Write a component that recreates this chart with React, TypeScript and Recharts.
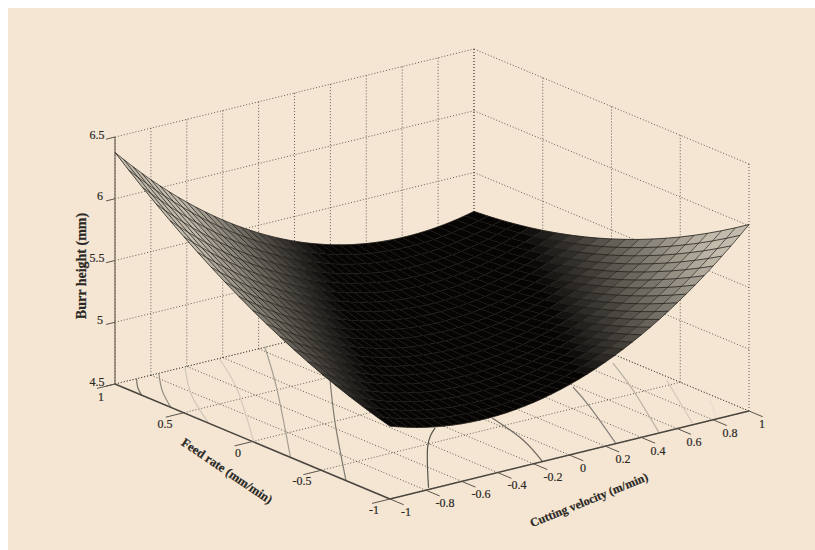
import React from "react";
import { ScatterChart, Scatter, XAxis, YAxis } from "recharts";

const velocityLevels = [-1, -0.95, -0.9, -0.85, -0.8, -0.75, -0.7, -0.65, -0.6, -0.55, -0.5, -0.45, -0.4, -0.35, -0.3, -0.25, -0.2, -0.15, -0.1, -0.05, 0, 0.05, 0.1, 0.15, 0.2, 0.25, 0.3, 0.35, 0.4, 0.45, 0.5, 0.55, 0.6, 0.65, 0.7, 0.75, 0.8, 0.85, 0.9, 0.95, 1];
const feedLevels = [-1, -0.9, -0.8, -0.7, -0.6, -0.5, -0.4, -0.3, -0.2, -0.1, 0, 0.1, 0.2, 0.3, 0.4, 0.5, 0.6, 0.7, 0.8, 0.9, 1];
// burr height: one row per velocity level, one column per feed level
const burrHeight = [
  [5.09,5.1219,5.1573,5.196,5.2382,5.2838,5.3327,5.3851,5.4408,5.5,5.5625,5.6285,5.6978,5.7706,5.8467,5.9263,6.0092,6.0956,6.1853,6.2785,6.375],
  [5.0662,5.0955,5.1282,5.1643,5.2038,5.2468,5.2931,5.3428,5.3959,5.4524,5.5123,5.5756,5.6423,5.7124,5.7859,5.8628,5.9432,6.0269,6.114,6.2045,6.2984],
  [5.0448,5.0715,5.1016,5.135,5.1719,5.2122,5.2559,5.303,5.3534,5.4073,5.4646,5.5253,5.5894,5.6568,5.7277,5.802,5.8797,5.9608,6.0452,6.1331,6.2244],
  [5.0258,5.0498,5.0773,5.1081,5.1424,5.18,5.221,5.2655,5.3133,5.3646,5.4192,5.4772,5.5387,5.6035,5.6718,5.7434,5.8184,5.8969,5.9787,6.064,6.1526],
  [5.0092,5.0306,5.0554,5.0836,5.1152,5.1502,5.1886,5.2304,5.2756,5.3242,5.3762,5.4316,5.4904,5.5526,5.6182,5.6872,5.7596,5.8354,5.9146,5.9972,6.0832],
  [4.995,5.0138,5.0359,5.0615,5.0904,5.1228,5.1586,5.1977,5.2403,5.2862,5.3356,5.3884,5.4445,5.5041,5.567,5.6334,5.7032,5.7763,5.8529,5.9328,6.0162],
  [4.9832,4.9993,5.0189,5.0418,5.0681,5.0978,5.131,5.1675,5.2074,5.2508,5.2975,5.3476,5.4012,5.4581,5.5184,5.5822,5.6493,5.7198,5.7937,5.8711,5.9518],
  [4.9738,4.9873,5.0042,5.0245,5.0482,5.0752,5.1057,5.1396,5.1769,5.2176,5.2617,5.3092,5.3601,5.4144,5.4721,5.5332,5.5976,5.6655,5.7368,5.8115,5.8896],
  [4.9668,4.9776,4.9919,5.0095,5.0306,5.055,5.0829,5.1141,5.1488,5.1868,5.2283,5.2732,5.3214,5.3731,5.4281,5.4866,5.5484,5.6137,5.6823,5.7544,5.8298],
  [4.9622,4.9704,4.982,4.997,5.0154,5.0372,5.0625,5.0911,5.1231,5.1585,5.1973,5.2395,5.2851,5.3341,5.3865,5.4424,5.5016,5.5642,5.6302,5.6996,5.7724],
  [4.96,4.9656,4.9746,4.9869,5.0027,5.0219,5.0445,5.0705,5.0998,5.1326,5.1688,5.2084,5.2514,5.2977,5.3475,5.4007,5.4573,5.5173,5.5806,5.6474,5.7176],
  [4.9602,4.9631,4.9695,4.9792,4.9924,5.0089,5.0288,5.0522,5.0789,5.1091,5.1426,5.1795,5.2199,5.2636,5.3108,5.3613,5.4152,5.4726,5.5333,5.5975,5.665],
  [4.9628,4.9631,4.9668,4.9739,4.9844,4.9983,5.0156,5.0363,5.0604,5.0879,5.1188,5.1531,5.1908,5.2319,5.2764,5.3243,5.3756,5.4303,5.4884,5.5499,5.6148],
  [4.9678,4.9655,4.9665,4.971,4.9788,4.9901,5.0048,5.0228,5.0443,5.0691,5.0974,5.1291,5.1641,5.2026,5.2444,5.2897,5.3384,5.3904,5.4459,5.5047,5.567],
  [4.9752,4.9702,4.9687,4.9705,4.9757,4.9843,4.9964,5.0118,5.0306,5.0529,5.0785,5.1075,5.14,5.1758,5.215,5.2577,5.3037,5.3531,5.4059,5.4622,5.5218],
  [4.985,4.9774,4.9732,4.9724,4.975,4.9809,4.9903,5.0031,5.0193,5.0389,5.0619,5.0883,5.1181,5.1513,5.1879,5.2279,5.2712,5.318,5.3682,5.4218,5.4788],
  [4.9972,4.9869,4.9801,4.9766,4.9766,4.9799,4.9867,4.9968,5.0104,5.0273,5.0477,5.0715,5.0986,5.1292,5.1631,5.2005,5.2412,5.2854,5.3329,5.3839,5.4382],
  [5.0118,4.9989,4.9894,4.9833,4.9806,4.9813,4.9855,4.993,5.0039,5.0182,5.0359,5.057,5.0815,5.1094,5.1407,5.1755,5.2136,5.2551,5.3,5.3483,5.4],
  [5.0288,5.0133,5.0012,4.9924,4.9871,4.9852,4.9867,4.9916,4.9998,5.0115,5.0266,5.0451,5.067,5.0922,5.1209,5.153,5.1885,5.2274,5.2696,5.3153,5.3644],
  [5.0482,5.03,5.0153,5.0039,4.996,4.9914,4.9902,4.9924,4.9981,5.0072,5.0196,5.0354,5.0547,5.0773,5.1034,5.1328,5.1656,5.2019,5.2415,5.2846,5.331],
  [5.07,5.0492,5.0318,5.0178,5.0072,5,4.9962,4.9958,4.9988,5.0052,5.015,5.0282,5.0448,5.0648,5.0882,5.115,5.1452,5.1788,5.2158,5.2562,5.3],
  [5.0942,5.0708,5.0507,5.0341,5.0208,5.011,5.0046,5.0015,5.0019,5.0056,5.0128,5.0234,5.0373,5.0547,5.0754,5.0996,5.1272,5.1581,5.1925,5.2302,5.2714],
  [5.1207,5.0946,5.072,5.0527,5.0368,5.0243,5.0153,5.0096,5.0073,5.0085,5.013,5.0209,5.0323,5.047,5.0651,5.0867,5.1116,5.1399,5.1716,5.2068,5.2453],
  [5.1498,5.1211,5.0958,5.0739,5.0554,5.0402,5.0285,5.0202,5.0153,5.0138,5.0157,5.021,5.0297,5.0418,5.0573,5.0762,5.0984,5.1241,5.1532,5.1857,5.2216],
  [5.1812,5.1498,5.1219,5.0973,5.0762,5.0584,5.0441,5.0331,5.0256,5.0214,5.0207,5.0234,5.0294,5.0389,5.0517,5.068,5.0876,5.1107,5.1371,5.167,5.2002],
  [5.215,5.181,5.1504,5.1232,5.0994,5.0791,5.0621,5.0485,5.0383,5.0315,5.0281,5.0281,5.0315,5.0383,5.0485,5.0621,5.0792,5.0996,5.1234,5.1506,5.1812],
  [5.2512,5.2146,5.1813,5.1515,5.1251,5.1021,5.0824,5.0662,5.0534,5.0439,5.0379,5.0353,5.036,5.0402,5.0478,5.0587,5.0731,5.0909,5.1121,5.1366,5.1646],
  [5.2898,5.2505,5.2147,5.1822,5.1532,5.1275,5.1052,5.0864,5.0709,5.0589,5.0502,5.0449,5.0431,5.0446,5.0496,5.0579,5.0696,5.0848,5.1033,5.1253,5.1506],
  [5.3308,5.2889,5.2504,5.2153,5.1836,5.1553,5.1304,5.1089,5.0908,5.0761,5.0648,5.0569,5.0524,5.0513,5.0536,5.0593,5.0684,5.0809,5.0968,5.1161,5.1388],
  [5.3742,5.3297,5.2885,5.2508,5.2165,5.1855,5.158,5.1338,5.1131,5.0957,5.0818,5.0713,5.0641,5.0604,5.06,5.0631,5.0696,5.0794,5.0927,5.1093,5.1294],
  [5.42,5.3728,5.329,5.2887,5.2517,5.2181,5.1879,5.1611,5.1378,5.1178,5.1012,5.088,5.0782,5.0719,5.0689,5.0693,5.0731,5.0803,5.091,5.105,5.1224],
  [5.4682,5.4184,5.372,5.329,5.2894,5.2532,5.2203,5.1909,5.1649,5.1423,5.1231,5.1073,5.0949,5.0859,5.0803,5.078,5.0792,5.0838,5.0918,5.1032,5.118],
  [5.5188,5.4664,5.4173,5.3717,5.3294,5.2906,5.2551,5.2231,5.1944,5.1692,5.1473,5.1288,5.1138,5.1021,5.0939,5.089,5.0876,5.0895,5.0949,5.1036,5.1158],
  [5.5718,5.5167,5.465,5.4167,5.3718,5.3304,5.2923,5.2576,5.2263,5.1984,5.1739,5.1528,5.1351,5.1208,5.1099,5.1024,5.0984,5.0977,5.1004,5.1065,5.116],
  [5.6272,5.5695,5.5151,5.4642,5.4167,5.3726,5.3318,5.2945,5.2606,5.23,5.2029,5.1792,5.1588,5.1419,5.1284,5.1182,5.1115,5.1082,5.1083,5.1117,5.1186],
  [5.685,5.6246,5.5677,5.5141,5.464,5.4172,5.3738,5.3339,5.2973,5.2642,5.2344,5.208,5.1851,5.1655,5.1494,5.1366,5.1272,5.1213,5.1187,5.1196,5.1238],
  [5.7452,5.6822,5.6226,5.5664,5.5136,5.4642,5.4182,5.3756,5.3364,5.3006,5.2682,5.2392,5.2136,5.1914,5.1726,5.1572,5.1452,5.1366,5.1314,5.1296,5.1312],
  [5.8078,5.7422,5.6799,5.6211,5.5656,5.5136,5.465,5.4197,5.3779,5.3394,5.3044,5.2728,5.2445,5.2197,5.1982,5.1802,5.1656,5.1543,5.1465,5.142,5.141],
  [5.8728,5.8045,5.7396,5.6782,5.6201,5.5654,5.5141,5.4662,5.4218,5.3807,5.343,5.3087,5.2778,5.2504,5.2263,5.2056,5.1883,5.1744,5.164,5.1569,5.1532],
  [5.9402,5.8693,5.8018,5.7377,5.677,5.6197,5.5657,5.5152,5.4681,5.4244,5.3841,5.3472,5.3137,5.2836,5.2569,5.2335,5.2136,5.1971,5.184,5.1743,5.168],
  [6.01,5.9365,5.8663,5.7996,5.7362,5.6763,5.6197,5.5666,5.5168,5.4705,5.4275,5.3879,5.3518,5.319,5.2897,5.2637,5.2412,5.222,5.2063,5.1939,5.185],
];

const zTicks = [4.5, 5, 5.5, 6, 6.5];
const feedTicks = [-1, -0.5, 0, 0.5, 1];
const velocityTicks = [-1, -0.8, -0.6, -0.4, -0.2, 0, 0.2, 0.4, 0.6, 0.8, 1];

// floor contours as [velocity, feed] pairs, with their grey
const contourLines: { color: string; pts: number[][] }[] = [
  { color: "#77726a", pts: [[-0.88, 1], [-0.95, 0.9], [-1, 0.807]] },
  { color: "#8f8a80", pts: [[-0.756, 1], [-0.89, 0.8], [-1, 0.595]] },
  { color: "#cdc6b9", pts: [[-0.61, 1], [-0.82, 0.68], [-1, 0.32]] },
  { color: "#d2cabd", pts: [[-0.42, 1], [-0.62, 0.606], [-1, -0.01]] },
  { color: "#a59f94", pts: [[-0.165, 1], [-0.48, 0.5], [-1, -0.276]] },
  { color: "#7f7a72", pts: [[-0.195, 0.488], [-0.555, -0.02], [-1, -0.68]] },
  { color: "#57534d", pts: [[-0.246, -0.343], [-0.43, -0.53], [-0.77, -0.98]] },
  { color: "#6e6962", pts: [[0.04, -0.386], [-0.037, -0.71], [-0.15, -1]] },
  { color: "#85807a", pts: [[0.583, -0.264], [0.475, -0.529], [0.264, -0.99]] },
  { color: "#b5afa3", pts: [[0.925, -0.108], [0.769, -0.458], [0.5, -1]] },
  { color: "#d2cabd", pts: [[0.97, -0.44], [0.7, -0.98]] },
  { color: "#e8decf", pts: [[0.955, -0.775], [0.82, -1]] },
];

const project = (v: number, f: number, z: number) => ({
  px: 390 + 179.5 * (v + 1) - 137.5 * (f + 1),
  py: 499 - 44 * (v + 1) - 57.5 * (f + 1) - 123.5 * (z - 4.5),
});

const seg = (a: number[], b: number[]) => [project(a[0], a[1], a[2]), project(b[0], b[1], b[2])];

const dotted = { stroke: "#3c3a36", strokeWidth: 0.8, strokeDasharray: "1 2", fill: "none" };
const noDot = () => <g />;

const gridSegs: { px: number; py: number }[][] = [];
velocityTicks.forEach((v) => {
  gridSegs.push(seg([v, -1, 4.5], [v, 1, 4.5]));
  gridSegs.push(seg([v, 1, 4.5], [v, 1, 6.5]));
});
feedTicks.forEach((f) => {
  gridSegs.push(seg([-1, f, 4.5], [1, f, 4.5]));
  gridSegs.push(seg([1, f, 4.5], [1, f, 6.5]));
});
zTicks.forEach((z) => {
  gridSegs.push(seg([-1, 1, z], [1, 1, z]));
  gridSegs.push(seg([1, 1, z], [1, -1, z]));
});

const vertices = velocityLevels.flatMap((v, i) =>
  feedLevels.map((f, j) => project(v, f, burrHeight[i][j]))
);

const steepness = (i: number, j: number) => {
  const dv = (burrHeight[i + 1][j] - burrHeight[i][j]) / (velocityLevels[i + 1] - velocityLevels[i]);
  const df = (burrHeight[i][j + 1] - burrHeight[i][j]) / (feedLevels[j + 1] - feedLevels[j]);
  return Math.hypot(dv, df);
};

const cellColor = (i: number, j: number) => {
  const t = Math.max(0, Math.min(1, (steepness(i, j) - 0.58) / 0.85));
  return `rgb(${Math.round(6 + 188 * t)},${Math.round(5 + 182 * t)},${Math.round(4 + 168 * t)})`;
};

const SurfaceMesh = (props: any) => {
  const pts: { x: number; y: number }[] = props.points;
  const ni = velocityLevels.length, nj = feedLevels.length;
  const at = (i: number, j: number) => pts[i * nj + j];
  const cells: React.ReactNode[] = [];
  for (let i = ni - 2; i >= 0; i--) {
    for (let j = nj - 2; j >= 0; j--) {
      const q = [at(i, j), at(i + 1, j), at(i + 1, j + 1), at(i, j + 1)];
      const c = cellColor(i, j);
      cells.push(
        <polygon key={`${i}-${j}`} points={q.map((p) => `${p.x},${p.y}`).join(" ")} fill={c} stroke={c} strokeWidth={0.3} />
      );
    }
  }
  const velocityLines = velocityLevels.map((_, i) => (
    <polyline
      key={`v${i}`}
      points={feedLevels.map((_, j) => `${at(i, j).x},${at(i, j).y}`).join(" ")}
      fill="none"
      stroke="#191714"
      strokeWidth={0.75}
    />
  ));
  const feedLines = feedLevels.map((_, j) => (
    <polyline
      key={`f${j}`}
      points={velocityLevels.map((_, i) => `${at(i, j).x},${at(i, j).y}`).join(" ")}
      fill="none"
      stroke="#221f1b"
      strokeWidth={0.7}
    />
  ));
  return <g>{cells}{feedLines}{velocityLines}</g>;
};

const Label = ({ cx, cy, text, size = 12, bold = false, angle = 0 }: any) => (
  <text
    x={cx}
    y={cy}
    textAnchor="middle"
    dominantBaseline="central"
    fontFamily="'Liberation Serif', serif"
    fontSize={size}
    fontWeight={bold ? 700 : 400}
    fill="#2a2825"
    transform={angle ? `rotate(${angle} ${cx} ${cy})` : undefined}
    stroke="#2a2825"
    strokeWidth={0.2}
  >
    {text}
  </text>
);

const labels = [
  { px: 97, py: 135, t: "6.5" }, { px: 100, py: 196, t: "6" }, { px: 97, py: 258, t: "5.5" },
  { px: 100, py: 320, t: "5" }, { px: 97, py: 382, t: "4.5" },
  { px: 101, py: 397, t: "1" }, { px: 165, py: 424, t: "0.5" }, { px: 238, py: 453, t: "0" },
  { px: 302, py: 481, t: "-0.5" }, { px: 374, py: 510, t: "-1" },
  { px: 406, py: 512, t: "-1" }, { px: 445, py: 503, t: "-0.8" }, { px: 481, py: 494, t: "-0.6" },
  { px: 517, py: 485, t: "-0.4" }, { px: 553, py: 477, t: "-0.2" }, { px: 583, py: 468, t: "0" },
  { px: 623, py: 459, t: "0.2" }, { px: 658, py: 451, t: "0.4" }, { px: 694, py: 442, t: "0.6" },
  { px: 730, py: 433, t: "0.8" }, { px: 762, py: 424, t: "1" },
];
const titles = [
  { px: 81, py: 266, t: "Burr height (mm)", angle: -90, size: 14 },
  { px: 227, py: 471, t: "Feed rate (mm/min)", angle: 34, size: 12.5 },
  { px: 589, py: 500, t: "Cutting velocity (m/min)", angle: -22, size: 12 },
];

const axisSegs = [
  { d: seg([-1, 1, 4.5], [-1, 1, 6.5]), color: "#7d7568", w: 1.4 },
  { d: seg([-1, 1, 4.5], [-1, -1, 4.5]), color: "#4a463f", w: 1.5 },
  { d: seg([-1, -1, 4.5], [1, -1, 4.5]), color: "#4a463f", w: 1.5 },
];
const tickSegs = [
  ...zTicks.map((z) => seg([-1, 1, z], [-1.05, 1, z])),
  ...feedTicks.map((f) => seg([-1, f, 4.5], [-1.1, f, 4.5])),
  ...velocityTicks.map((v) => seg([v, -1, 4.5], [v, -1.1, 4.5])),
];

export default function App() {
  return (
    <div style={{ position: "absolute", left: 0, top: 0, width: 815, height: 550, background: "#fff" }}>
      <div style={{ position: "absolute", left: 8, top: 8, width: 807, height: 542, background: "#f5e6d3" }} />
      <div style={{ position: "absolute", left: 0, top: 0 }}>
        <ScatterChart width={815} height={550} margin={{ top: 0, right: 0, bottom: 0, left: 0 }}>
          <XAxis type="number" dataKey="px" domain={[0, 815]} hide />
          <YAxis type="number" dataKey="py" domain={[0, 550]} reversed hide />
          {gridSegs.map((d, i) => (
            <Scatter key={`g${i}`} data={d} line={dotted} shape={noDot} isAnimationActive={false} />
          ))}
          {contourLines.map((c, i) => (
            <Scatter
              key={`c${i}`}
              data={c.pts.map((p) => project(p[0], p[1], 4.5))}
              line={{ stroke: c.color, strokeWidth: 1.2, fill: "none" }}
              lineJointType="natural"
              shape={noDot}
              isAnimationActive={false}
            />
          ))}
          {axisSegs.map((a, i) => (
            <Scatter key={`a${i}`} data={a.d} line={{ stroke: a.color, strokeWidth: a.w, fill: "none" }} shape={noDot} isAnimationActive={false} />
          ))}
          {tickSegs.map((d, i) => (
            <Scatter key={`t${i}`} data={d} line={{ stroke: "#5a554d", strokeWidth: 1, fill: "none" }} shape={noDot} isAnimationActive={false} />
          ))}
          <Scatter data={vertices} line={SurfaceMesh as any} shape={noDot} isAnimationActive={false} />
          <Scatter
            data={labels}
            isAnimationActive={false}
            shape={(p: any) => <Label cx={p.cx} cy={p.cy} text={p.payload.t} size={12} />}
          />
          <Scatter
            data={titles}
            isAnimationActive={false}
            shape={(p: any) => <Label cx={p.cx} cy={p.cy} text={p.payload.t} size={p.payload.size} bold angle={p.payload.angle} />}
          />
        </ScatterChart>
      </div>
    </div>
  );
}
